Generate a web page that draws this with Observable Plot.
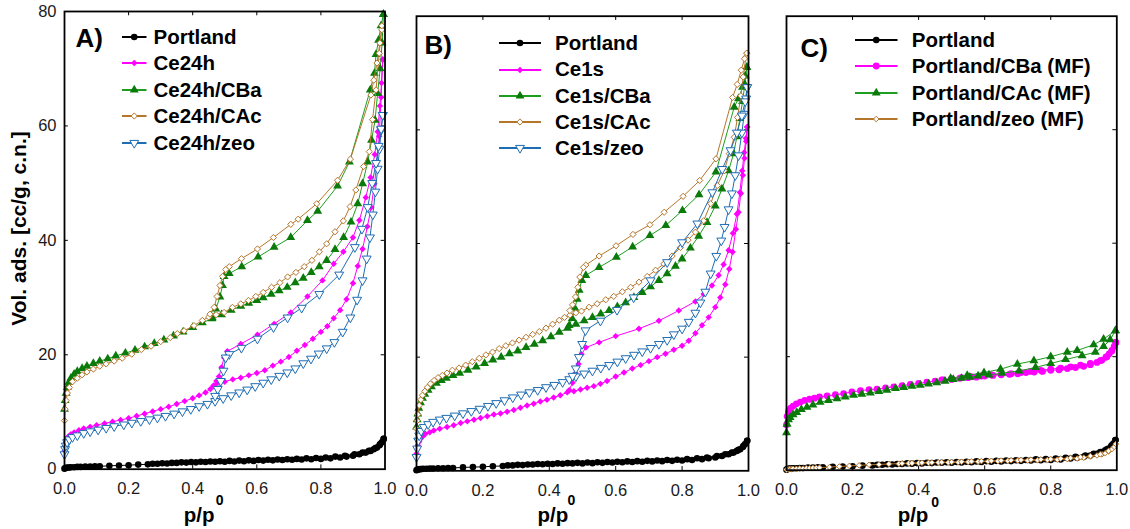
<!DOCTYPE html>
<html>
<head>
<meta charset="utf-8">
<script src="https://cdn.jsdelivr.net/npm/d3@7"></script>
<script src="https://cdn.jsdelivr.net/npm/@observablehq/plot@0.6"></script>
<style>
html,body{margin:0;padding:0;background:#fff;}
#fig{position:relative;width:1130px;height:529px;overflow:hidden;background:#fff;font-family:"Liberation Sans",Arial,Helvetica,sans-serif;}
.panel{position:absolute;top:0;}
.legend{position:absolute;font-weight:bold;font-size:20.5px;color:#000;line-height:1;}
.legend .row{display:flex;align-items:center;white-space:nowrap;}
.legend svg{display:block;overflow:visible;flex:none;}
</style>
</head>
<body>
<div id="fig"></div>
<script>
// ---------------- tick values ----------------
const xTickVals = [0, 0.2, 0.4, 0.6, 0.8, 1.0];
const yTickVals = [0, 20, 40, 60, 80];
const innerXTicks = [0.2, 0.4, 0.6, 0.8];
const innerYTicks = [20, 40, 60];

// ---------------- legend names ----------------
const namesA = ["Portland", "Ce24h", "Ce24h/CBa", "Ce24h/CAc", "Ce24h/zeo"];
const namesB = ["Portland", "Ce1s", "Ce1s/CBa", "Ce1s/CAc", "Ce1s/zeo"];
const namesC = ["Portland", "Portland/CBa (MF)", "Portland/CAc (MF)", "Portland/zeo (MF)"];

// ---------------- data: [p/p0, volume] ----------------
const portlandAds = [[0,0.1],[0.003,0.2],[0.006,0.25],[0.01,0.3],[0.015,0.3],[0.02,0.35],[0.03,0.35],[0.04,0.4],[0.05,0.4],[0.065,0.45],[0.08,0.45],[0.095,0.5],[0.11,0.5],[0.14,0.6],[0.17,0.65],[0.2,0.7],[0.23,0.8],[0.26,0.85],[0.29,0.95],[0.32,1.0],[0.35,1.1],[0.38,1.15],[0.41,1.2],[0.44,1.25],[0.47,1.3],[0.5,1.3],[0.53,1.35],[0.56,1.4],[0.59,1.45],[0.62,1.5],[0.65,1.55],[0.68,1.6],[0.71,1.65],[0.74,1.7],[0.77,1.75],[0.8,1.8],[0.83,1.9],[0.86,2.05],[0.88,2.2],[0.9,2.35],[0.92,2.6],[0.94,2.9],[0.955,3.2],[0.965,3.5],[0.975,3.8],[0.983,4.2],[0.99,4.7],[0.996,5.3]];
const portlandDes = [[0.996,5.3],[0.985,4.4],[0.97,3.7],[0.95,3.2],[0.93,2.9],[0.905,2.6],[0.875,2.35],[0.845,2.2],[0.815,2.05],[0.785,1.95],[0.755,1.9],[0.725,1.8],[0.695,1.75],[0.665,1.7],[0.635,1.65],[0.605,1.6],[0.575,1.55],[0.545,1.5],[0.515,1.45],[0.485,1.4],[0.455,1.35],[0.425,1.3],[0.395,1.25],[0.365,1.2],[0.335,1.1],[0.305,1.05],[0.275,0.95]];

// Panel A
const aCe24hAds = [[0,3.2],[0.002,4.0],[0.004,4.6],[0.007,5.2],[0.012,5.7],[0.02,6.1],[0.03,6.4],[0.045,6.8],[0.06,7.1],[0.08,7.4],[0.1,7.7],[0.125,8.0],[0.15,8.3],[0.175,8.6],[0.2,8.9],[0.225,9.3],[0.25,9.7],[0.275,10.1],[0.3,10.5],[0.325,10.9],[0.35,11.4],[0.375,11.9],[0.4,12.4],[0.42,12.9],[0.44,13.4],[0.455,14.0],[0.465,14.6],[0.475,15.0],[0.5,15.3],[0.525,15.7],[0.55,16.0],[0.575,16.4],[0.6,16.8],[0.625,17.3],[0.65,18.1],[0.675,18.8],[0.7,19.6],[0.725,20.7],[0.75,21.7],[0.775,22.8],[0.8,24.0],[0.82,25.0],[0.84,26.4],[0.86,27.8],[0.88,29.7],[0.9,32.5],[0.915,35.5],[0.93,38.5],[0.945,42.4],[0.957,45.8],[0.967,49.9],[0.975,53.6],[0.982,58.2],[0.988,65.0],[0.993,71.6]];
const aCe24hDes = [[0.993,71.6],[0.989,67.5],[0.984,63.5],[0.977,59.0],[0.968,55.0],[0.955,51.0],[0.94,47.5],[0.92,43.5],[0.9,40.5],[0.87,38.0],[0.84,35.9],[0.805,33.0],[0.758,30.2],[0.706,27.4],[0.654,25.4],[0.602,23.5],[0.55,21.9],[0.508,20.6],[0.498,19.5],[0.49,17.8],[0.482,16.2],[0.474,15.4],[0.465,14.6]];
const aCBaAds = [[0,10.5],[0.002,12.0],[0.005,13.3],[0.009,14.3],[0.014,15.2],[0.02,15.9],[0.03,16.6],[0.04,17.1],[0.055,17.6],[0.07,18.0],[0.09,18.5],[0.11,18.9],[0.135,19.3],[0.16,19.8],[0.19,20.3],[0.22,20.8],[0.25,21.4],[0.28,22.0],[0.31,22.6],[0.34,23.3],[0.37,24.0],[0.4,24.8],[0.43,25.6],[0.46,26.3],[0.49,27.0],[0.52,27.8],[0.55,28.5],[0.575,29.0],[0.6,29.5],[0.62,30.0],[0.645,30.6],[0.67,31.2],[0.695,31.8],[0.72,32.6],[0.745,33.4],[0.77,34.4],[0.795,35.4],[0.818,36.5],[0.844,38.4],[0.871,40.5],[0.894,43.2],[0.915,46.4],[0.93,49.9],[0.946,53.7],[0.958,57.5],[0.969,61.0],[0.977,65.7],[0.985,70.0],[0.991,74.5],[0.995,79.5]];
const aCBaDes = [[0.995,79.5],[0.9875,77.5],[0.98,75.0],[0.972,72.5],[0.967,69.2],[0.954,66.3],[0.889,53.7],[0.852,49.5],[0.79,45.1],[0.758,43.5],[0.706,40.5],[0.654,38.8],[0.604,37.1],[0.553,35.4],[0.514,34.2],[0.498,33.7],[0.493,32.1],[0.485,30.1],[0.472,28.0],[0.461,26.5]];
const aCAcAds = [[0,8.5],[0.002,10.5],[0.005,12.0],[0.009,13.3],[0.015,14.3],[0.025,15.3],[0.04,15.9],[0.055,16.5],[0.07,17.0],[0.09,17.5],[0.11,18.0],[0.13,18.4],[0.155,18.9],[0.18,19.4],[0.21,20.1],[0.24,20.9],[0.27,21.5],[0.3,22.3],[0.33,23.0],[0.352,23.7],[0.373,24.2],[0.404,25.1],[0.43,26.0],[0.45,26.6],[0.473,27.0],[0.498,27.4],[0.524,28.3],[0.55,28.9],[0.574,29.5],[0.597,30.2],[0.62,30.9],[0.646,31.8],[0.672,32.6],[0.696,33.6],[0.722,34.4],[0.748,35.4],[0.772,36.5],[0.795,38.0],[0.818,39.4],[0.844,41.5],[0.87,43.4],[0.891,45.9],[0.909,48.8],[0.933,52.9],[0.951,55.5],[0.961,61.1],[0.972,66.3],[0.982,72.7],[0.99,76.8]];
const aCAcDes = [[0.99,77.5],[0.984,74.5],[0.975,71.0],[0.965,68.0],[0.956,65.4],[0.892,54.2],[0.852,50.5],[0.787,46.4],[0.729,43.7],[0.706,42.8],[0.652,40.5],[0.602,38.5],[0.552,36.8],[0.514,35.4],[0.503,34.9],[0.493,33.7],[0.485,32.1],[0.476,30.2],[0.467,28.3],[0.454,27.1]];
const aZeoAds = [[0,2.6],[0.002,3.5],[0.004,4.1],[0.008,4.7],[0.015,5.2],[0.025,5.6],[0.04,5.9],[0.06,6.3],[0.08,6.6],[0.105,6.9],[0.13,7.2],[0.155,7.5],[0.185,7.8],[0.21,8.1],[0.238,8.4],[0.265,8.7],[0.29,9.0],[0.315,9.3],[0.342,9.7],[0.368,10.1],[0.394,10.5],[0.42,11.0],[0.446,11.4],[0.47,11.9],[0.495,12.4],[0.52,12.9],[0.545,13.4],[0.57,13.9],[0.595,14.5],[0.62,15.1],[0.645,15.7],[0.67,16.3],[0.695,16.9],[0.72,17.6],[0.745,18.5],[0.769,19.3],[0.793,20.2],[0.818,21.1],[0.842,22.2],[0.868,24.0],[0.892,26.5],[0.913,29.6],[0.93,33.0],[0.943,36.8],[0.953,40.5],[0.962,44.5],[0.97,48.5],[0.977,52.5],[0.983,56.0],[0.988,59.3],[0.993,61.9]];
const aZeoDes = [[0.993,61.9],[0.988,59.5],[0.98,56.5],[0.972,53.5],[0.96,50.0],[0.946,45.8],[0.928,42.0],[0.906,38.8],[0.857,34.0],[0.795,30.6],[0.74,28.2],[0.696,26.5],[0.652,24.8],[0.602,22.8],[0.552,21.2],[0.514,20.1],[0.503,19.5],[0.496,17.2],[0.4875,15.4],[0.478,14.0],[0.47,12.8]];

// Panel B
const bCe1sAds = [[0,3.0],[0.002,3.8],[0.004,4.5],[0.008,5.1],[0.012,5.6],[0.02,6.1],[0.027,6.5],[0.04,6.8],[0.052,7.1],[0.07,7.4],[0.092,7.7],[0.112,8.0],[0.133,8.4],[0.153,8.7],[0.173,9.0],[0.193,9.3],[0.213,9.6],[0.233,9.9],[0.253,10.1],[0.273,10.4],[0.293,10.7],[0.313,11.1],[0.333,11.5],[0.353,11.8],[0.373,12.2],[0.393,12.5],[0.413,12.9],[0.433,13.3],[0.454,13.8],[0.474,14.0],[0.494,14.3],[0.514,14.6],[0.534,14.9],[0.554,15.3],[0.574,15.8],[0.6,16.6],[0.625,17.3],[0.65,18.0],[0.675,18.6],[0.7,19.3],[0.725,20.0],[0.75,20.6],[0.775,21.3],[0.8,22.0],[0.82,22.9],[0.84,24.2],[0.86,25.6],[0.88,27.0],[0.9,28.8],[0.915,30.5],[0.93,32.8],[0.942,35.5],[0.952,38.5],[0.962,42.5],[0.97,45.5],[0.977,48.8],[0.983,52.0],[0.988,55.0],[0.993,58.0],[0.996,60.5]];
const bCe1sDes = [[0.996,60.5],[0.992,58.5],[0.987,56.0],[0.981,52.8],[0.974,49.0],[0.965,45.2],[0.953,41.8],[0.94,38.8],[0.925,36.3],[0.91,34.4],[0.89,32.6],[0.865,31.1],[0.84,29.8],[0.79,28.2],[0.73,26.4],[0.67,25.0],[0.6,23.7],[0.55,22.6],[0.51,21.7],[0.497,20.5],[0.488,18.8],[0.479,17.2],[0.47,15.5],[0.46,14.2]];
const bCBaAds = [[0,7.7],[0.002,9.0],[0.004,10.0],[0.007,11.0],[0.012,12.0],[0.018,12.8],[0.025,13.5],[0.035,14.2],[0.045,14.8],[0.06,15.4],[0.075,15.9],[0.09,16.3],[0.11,16.8],[0.13,17.2],[0.155,17.7],[0.18,18.3],[0.205,18.9],[0.23,19.5],[0.255,20.0],[0.28,20.6],[0.305,21.1],[0.33,21.7],[0.355,22.3],[0.38,22.9],[0.405,23.6],[0.43,24.4],[0.455,25.1],[0.48,25.8],[0.505,26.4],[0.53,27.0],[0.555,27.6],[0.58,28.2],[0.605,28.9],[0.63,29.6],[0.655,30.5],[0.68,31.4],[0.705,32.4],[0.73,33.5],[0.755,34.7],[0.78,36.0],[0.8,37.3],[0.825,39.2],[0.85,41.3],[0.875,43.7],[0.9,46.6],[0.92,49.6],[0.94,52.8],[0.955,55.8],[0.965,58.8],[0.974,62.0],[0.982,65.0],[0.989,68.0],[0.995,71.0]];
const bCBaDes = [[0.995,71.0],[0.99,69.5],[0.982,67.5],[0.97,65.5],[0.957,64.0],[0.902,52.6],[0.851,48.6],[0.801,45.8],[0.751,43.2],[0.703,41.4],[0.651,39.4],[0.602,37.6],[0.55,35.8],[0.51,34.4],[0.498,33.5],[0.49,31.8],[0.484,30.2],[0.477,28.6],[0.469,26.8],[0.46,25.6]];
const bCAcAds = [[0,7.4],[0.002,8.8],[0.004,9.9],[0.008,11.5],[0.013,12.5],[0.018,13.3],[0.025,14.0],[0.033,14.7],[0.042,15.3],[0.053,15.9],[0.065,16.4],[0.078,16.8],[0.092,17.2],[0.108,17.7],[0.128,18.1],[0.148,18.6],[0.168,19.2],[0.189,19.8],[0.209,20.4],[0.229,20.9],[0.249,21.5],[0.269,22.0],[0.289,22.5],[0.309,23.0],[0.33,23.5],[0.35,24.0],[0.37,24.5],[0.39,25.1],[0.41,25.8],[0.43,26.5],[0.446,27.0],[0.462,27.4],[0.48,27.8],[0.497,28.1],[0.52,28.8],[0.544,29.4],[0.57,30.1],[0.594,30.7],[0.62,31.5],[0.645,32.3],[0.67,33.2],[0.695,34.2],[0.72,35.3],[0.745,36.4],[0.77,37.8],[0.795,39.3],[0.818,40.6],[0.84,42.0],[0.865,44.0],[0.886,47.0],[0.906,50.2],[0.927,52.8],[0.942,55.8],[0.957,58.7],[0.967,62.2],[0.977,66.0],[0.984,69.3],[0.992,72.8],[0.995,73.5]];
const bCAcDes = [[0.995,73.5],[0.988,72.5],[0.978,70.5],[0.966,68.0],[0.952,65.7],[0.902,54.9],[0.853,51.1],[0.803,48.3],[0.746,45.5],[0.703,43.3],[0.652,41.6],[0.601,39.6],[0.55,37.8],[0.51,36.2],[0.503,35.8],[0.492,34.1],[0.486,32.3],[0.479,30.6],[0.47,29.2],[0.462,28.2]];
const bZeoAds = [[0,2.4],[0.002,3.9],[0.005,5.3],[0.008,6.2],[0.014,7.0],[0.022,7.7],[0.035,8.2],[0.05,8.6],[0.07,9.0],[0.09,9.3],[0.115,9.7],[0.14,10.1],[0.165,10.5],[0.19,10.9],[0.215,11.4],[0.24,11.9],[0.265,12.4],[0.29,12.9],[0.315,13.4],[0.34,13.8],[0.365,14.2],[0.39,14.7],[0.415,15.1],[0.44,15.6],[0.46,16.1],[0.48,16.6],[0.505,17.1],[0.53,17.6],[0.555,18.1],[0.58,18.6],[0.605,19.2],[0.63,19.8],[0.655,20.4],[0.68,21.0],[0.705,21.6],[0.73,22.3],[0.755,23.0],[0.775,24.0],[0.8,25.0],[0.82,26.2],[0.84,27.8],[0.855,29.6],[0.87,31.5],[0.886,34.7],[0.903,37.8],[0.918,40.5],[0.928,42.9],[0.94,46.0],[0.95,48.8],[0.96,52.0],[0.97,55.5],[0.98,59.5],[0.987,62.8],[0.993,65.5],[0.996,67.5]];
const bZeoDes = [[0.996,67.5],[0.99,65.0],[0.98,62.5],[0.965,59.5],[0.946,56.4],[0.921,53.1],[0.891,49.0],[0.846,43.5],[0.8,40.2],[0.755,36.7],[0.705,33.5],[0.654,30.5],[0.604,28.3],[0.554,26.4],[0.509,24.7],[0.499,22.3],[0.489,20.0],[0.48,18.0],[0.47,16.7]];

// Panel C
const cCBaAds = [[0,8.0],[0.002,9.5],[0.006,10.3],[0.012,10.9],[0.02,11.3],[0.03,11.7],[0.042,12.0],[0.055,12.3],[0.07,12.5],[0.085,12.7],[0.1,12.9],[0.123,13.1],[0.148,13.3],[0.173,13.5],[0.198,13.8],[0.224,14.0],[0.25,14.2],[0.274,14.3],[0.3,14.5],[0.325,14.7],[0.35,14.9],[0.375,15.1],[0.4,15.3],[0.425,15.5],[0.45,15.7],[0.475,15.9],[0.5,16.0],[0.525,16.2],[0.55,16.3],[0.575,16.4],[0.6,16.6],[0.625,16.7],[0.65,16.8],[0.675,16.9],[0.7,17.0],[0.725,17.2],[0.75,17.3],[0.775,17.4],[0.8,17.6],[0.825,17.7],[0.85,17.9],[0.875,18.1],[0.9,18.3],[0.92,18.6],[0.94,19.0],[0.955,19.4],[0.967,19.9],[0.977,20.5],[0.985,21.1],[0.992,21.8],[0.997,22.5]];
const cCBaDes = [[0.997,22.5],[0.985,21.0],[0.97,20.0],[0.95,19.3],[0.92,18.8],[0.89,18.5],[0.86,18.2],[0.83,18.0],[0.8,17.8],[0.77,17.6],[0.74,17.4],[0.71,17.2],[0.68,17.0],[0.65,16.9],[0.62,16.8],[0.59,16.6],[0.56,16.5],[0.53,16.3],[0.5,16.1],[0.47,15.9]];
const cCAcAds = [[0,6.6],[0.002,8.1],[0.006,8.9],[0.011,9.3],[0.02,9.8],[0.031,10.2],[0.045,10.7],[0.062,11.1],[0.08,11.5],[0.102,12.0],[0.127,12.3],[0.153,12.6],[0.178,12.9],[0.203,13.2],[0.228,13.4],[0.254,13.6],[0.28,13.9],[0.304,14.1],[0.33,14.4],[0.355,14.6],[0.38,14.8],[0.405,15.0],[0.43,15.2],[0.455,15.4],[0.48,15.7],[0.505,16.0],[0.53,16.2],[0.555,16.4],[0.58,16.6],[0.613,16.8],[0.653,17.1],[0.704,17.5],[0.754,18.1],[0.8,18.8],[0.845,19.5],[0.895,20.2],[0.935,20.8],[0.96,21.8],[0.98,23.0],[0.996,24.6]];
const cCAcDes = [[0.996,24.6],[0.96,23.1],[0.93,22.1],[0.88,21.1],[0.85,20.8],[0.8,20.0],[0.749,19.3],[0.699,18.7],[0.648,17.8],[0.598,17.2],[0.547,16.7],[0.497,16.2]];
const cZeoAds = [[0,0.1],[0.005,0.15],[0.01,0.2],[0.015,0.2],[0.02,0.25],[0.03,0.25],[0.04,0.3],[0.05,0.3],[0.06,0.35],[0.07,0.35],[0.08,0.4],[0.09,0.4],[0.1,0.45],[0.13,0.55],[0.16,0.65],[0.19,0.75],[0.22,0.85],[0.25,0.95],[0.28,1.0],[0.31,1.1],[0.34,1.15],[0.37,1.2],[0.4,1.25],[0.43,1.3],[0.46,1.35],[0.49,1.35],[0.52,1.4],[0.55,1.45],[0.58,1.5],[0.61,1.55],[0.64,1.6],[0.67,1.65],[0.7,1.7],[0.73,1.7],[0.76,1.75],[0.79,1.8],[0.82,1.85],[0.85,1.95],[0.88,2.05],[0.9,2.2],[0.92,2.4],[0.94,2.6],[0.955,2.8],[0.965,3.0],[0.975,3.3],[0.985,3.7],[0.992,4.1],[0.997,4.6]];
const cZeoDes = [[0.997,4.6],[0.975,3.4],[0.95,2.8],[0.92,2.5],[0.89,2.3],[0.86,2.15],[0.83,2.05],[0.8,1.95],[0.77,1.9],[0.74,1.85],[0.71,1.8],[0.68,1.75],[0.65,1.7],[0.62,1.65],[0.59,1.6],[0.56,1.55],[0.53,1.5],[0.5,1.45],[0.47,1.4],[0.44,1.35],[0.41,1.3],[0.38,1.25],[0.35,1.2]];

// ---------------- styles ----------------
const triDown = {draw(ctx, size) {
  const y = -Math.sqrt(size / (Math.sqrt(3) * 3));
  ctx.moveTo(0, -y * 2);
  ctx.lineTo(-Math.sqrt(3) * y, y);
  ctx.lineTo(Math.sqrt(3) * y, y);
  ctx.closePath();
}};
const STY = {
  black:   {symbol: d3.symbolCircle,   r: 3.3, fill: "#000000", stroke: "none",    sw: 0, line: "#000000"},
  magD:    {symbol: d3.symbolDiamond2, r: 2.9, fill: "#ff00ff", stroke: "none",    sw: 0, line: "#ff00ff"},
  magC:    {symbol: d3.symbolCircle,   r: 3.4, fill: "#ff00ff", stroke: "none",    sw: 0, line: "#ff00ff"},
  green:   {symbol: d3.symbolTriangle, r: 3.3, fill: "#0a7a0a", stroke: "none",    sw: 0, line: "#1e9e1e"},
  brown:   {symbol: d3.symbolDiamond2, r: 2.8, fill: "#ffffff", stroke: "#b5762c", sw: 1, line: "#b5762c"},
  brownS:  {symbol: d3.symbolDiamond2, r: 2.5, fill: "#ffffff", stroke: "#b5762c", sw: 1, line: "#b5762c"},
  blue:    {symbol: triDown,           r: 3.3, fill: "#ffffff", stroke: "#1f6db3", sw: 1, line: "#1f6db3"}
};

const panels = [
  {left: 0, width: 400, mL: 64, mR: 15.5, mT: 11, mB: 60.3, yAxis: true,
   letter: "A)", letterDx: 11, letterDy: 17, xLabDx: -41, supDx: -9, supBase: 504,
   legend: {left: 121.5, top: 23.5, rowH: 26.5, sw: 24.5, gap: 7.5},
   series: [
     {name: namesA[0], style: "black", data: [portlandAds, portlandDes]},
     {name: namesA[1], style: "magD",  data: [aCe24hAds, aCe24hDes]},
     {name: namesA[2], style: "green", data: [aCBaAds, aCBaDes]},
     {name: namesA[3], style: "brown", data: [aCAcAds, aCAcDes]},
     {name: namesA[4], style: "blue",  data: [aZeoAds, aZeoDes]}
   ]},
  {left: 400, width: 360, mL: 16, mR: 12, mT: 15.7, mB: 58.7, yAxis: false,
   letter: "B)", letterDx: 8, letterDy: 19, xLabDx: -45, supDx: -15, supBase: 504,
   legend: {left: 498.5, top: 30.2, rowH: 26.25, sw: 42, gap: 14.5},
   series: [
     {name: namesB[0], style: "black", data: [portlandAds, portlandDes]},
     {name: namesB[1], style: "magD",  data: [bCe1sAds, bCe1sDes]},
     {name: namesB[2], style: "green", data: [bCBaAds, bCBaDes]},
     {name: namesB[3], style: "brown", data: [bCAcAds, bCAcDes]},
     {name: namesB[4], style: "blue",  data: [bZeoAds, bZeoDes]}
   ]},
  {left: 770, width: 360, mL: 16, mR: 13.7, mT: 15.7, mB: 59.3, yAxis: false,
   letter: "C)", letterDx: 14, letterDy: 22, xLabDx: -54, supDx: -20.5, supBase: 506,
   legend: {left: 854.5, top: 26.8, rowH: 26.45, sw: 42.5, gap: 14.8},
   series: [
     {name: namesC[0], style: "black",  data: [portlandAds, portlandDes]},
     {name: namesC[1], style: "magC",   data: [cCBaAds, cCBaDes]},
     {name: namesC[2], style: "green",  data: [cCAcAds, cCAcDes]},
     {name: namesC[3], style: "brownS", data: [cZeoAds, cZeoDes]}
   ]}
];

const H = 529;
const LABEL_BASELINE = 521;

function buildPanel(cfg) {
  const bottom = H - cfg.mB;
  const marks = [];
  marks.push(Plot.ruleX(innerXTicks, {x: d => d, y1: 0, y2: 0.75, stroke: "#000", strokeWidth: 1}));
  marks.push(Plot.ruleX(innerXTicks, {x: d => d, y1: 80, y2: 79.25, stroke: "#000", strokeWidth: 1}));
  marks.push(Plot.ruleY(innerYTicks, {y: d => d, x1: 0, x2: 0.012, stroke: "#000", strokeWidth: 1}));
  marks.push(Plot.ruleY(innerYTicks, {y: d => d, x1: 1, x2: 0.988, stroke: "#000", strokeWidth: 1}));
  cfg.series.forEach(s => {
    const st = STY[s.style];
    const rows = [];
    s.data.forEach((br, bi) => br.forEach(([p, v]) => rows.push({p, v, b: bi})));
    marks.push(Plot.line(rows, {x: "p", y: "v", z: "b", stroke: st.line, strokeWidth: 1}));
    marks.push(Plot.dot(rows, {x: "p", y: "v", symbol: st.symbol, r: st.r, fill: st.fill, stroke: st.stroke, strokeWidth: st.sw}));
  });
  marks.push(Plot.frame({stroke: "#000", strokeWidth: 1.8}));
  marks.push(Plot.axisX({ticks: xTickVals, tickSize: 0, tickPadding: 13, tickFormat: d3.format(".1f"), fontSize: 16.5, label: null}));
  if (cfg.yAxis) {
    marks.push(Plot.axisY({ticks: yTickVals, tickSize: 0, tickPadding: 8, tickFormat: d => String(d), fontSize: 16.5, label: null}));
    marks.push(Plot.text(["Vol. ads. [cc/g, c.n.]"], {frameAnchor: "left", text: d => d, dx: -45, dy: 228 - (cfg.mT + bottom) / 2, rotate: -90, textAnchor: "middle", lineAnchor: "middle", fontSize: 21, fontWeight: "bold", fill: "#000"}));
  }
  marks.push(Plot.text([cfg.letter], {frameAnchor: "top-left", text: d => d, dx: cfg.letterDx, dy: cfg.letterDy, fontSize: 26, fontWeight: "bold", textAnchor: "start", lineAnchor: "top", fill: "#000"}));
  marks.push(Plot.text(["p/p"], {frameAnchor: "bottom", text: d => d, dx: cfg.xLabDx, dy: LABEL_BASELINE - bottom, fontSize: 20.5, fontWeight: "bold", textAnchor: "start", lineAnchor: "bottom", fill: "#000"}));
  marks.push(Plot.text(["0"], {frameAnchor: "bottom", text: d => d, dx: cfg.supDx, dy: cfg.supBase - bottom, fontSize: 14, fontWeight: "bold", textAnchor: "start", lineAnchor: "bottom", fill: "#000"}));

  const yScale = {domain: [0, 80]};
  if (!cfg.yAxis) yScale.axis = null;
  const svg = Plot.plot({
    width: cfg.width, height: H,
    marginLeft: cfg.mL, marginRight: cfg.mR, marginTop: cfg.mT, marginBottom: cfg.mB,
    x: {domain: [0, 1]},
    y: yScale,
    style: {fontFamily: '"Liberation Sans", Arial, sans-serif', fontSize: "16px", color: "#1a1a1a", background: "transparent", overflow: "visible"},
    marks
  });
  svg.classList.add("panel");
  svg.style.left = cfg.left + "px";
  svg.style.position = "absolute";
  svg.style.top = "0px";
  return svg;
}

function buildLegend(cfg) {
  const L = cfg.legend;
  const div = document.createElement("div");
  div.className = "legend";
  div.style.left = L.left + "px";
  div.style.top = L.top + "px";
  cfg.series.forEach(s => {
    const st = STY[s.style];
    const row = document.createElement("div");
    row.className = "row";
    row.style.height = L.rowH + "px";
    const path = d3.symbol(st.symbol, Math.PI * st.r * st.r)();
    row.innerHTML = `<svg width="${L.sw}" height="14"><line x1="0" x2="${L.sw}" y1="7" y2="7" stroke="${st.line}" stroke-width="2"/><path transform="translate(${L.sw / 2},7)" d="${path}" fill="${st.fill}" stroke="${st.stroke}" stroke-width="${st.sw}"/></svg><span style="margin-left:${L.gap}px">${s.name}</span>`;
    div.appendChild(row);
  });
  return div;
}

const fig = document.getElementById("fig");
panels.forEach(cfg => {
  fig.appendChild(buildPanel(cfg));
  fig.appendChild(buildLegend(cfg));
});
</script>
</body>
</html>
